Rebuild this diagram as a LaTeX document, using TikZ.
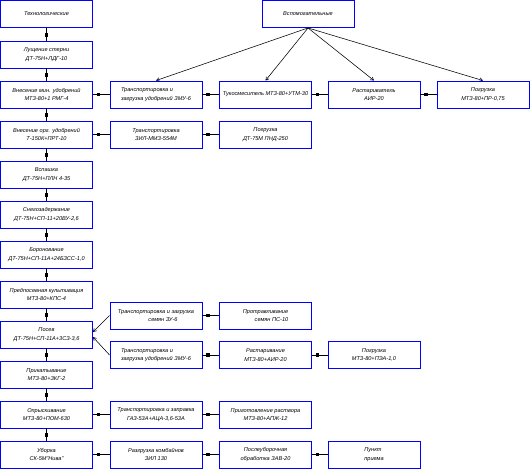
\documentclass[tikz,border=0pt]{standalone}
\usepackage{fontspec}
\setmainfont{Liberation Sans}
\usetikzlibrary{arrows.meta,decorations.markings}
\definecolor{boxblue}{RGB}{0,0,255}
\tikzset{
 bx/.style={draw=boxblue, line width=0.9pt, minimum width=92pt, minimum height=27pt, inner sep=1pt, align=center, font=\fontsize{5.6}{8.5}\selectfont\itshape, fill=white},
 sq/.style={draw=black, line width=0.65pt, postaction={decorate}, decoration={markings, mark=at position -5.5pt with {\fill[black] (-1.6pt,-1.6pt) rectangle (1.6pt,1.6pt);}}},
 ar/.style={draw=black, line width=0.55pt, -{Straight Barb[length=3pt,width=3.5pt]}},
}
\begin{document}
\begin{tikzpicture}[x=1pt,y=-1pt]
\useasboundingbox (0,0) rectangle (532,475);
% left column
\node[bx] (L1) at (46.5,14) {Технологические};
\node[bx] (L2) at (46.5,54.5) {Лущение стерни\\ДТ-75Н+ЛДГ-10};
\node[bx] (L3) at (46.5,94.5) {Внесение мин. удобрений\\МТЗ-80+1 РМГ-4};
\node[bx] (L4) at (46.5,134.5) {Внесение орг. удобрений\\Т-150К+ПРТ-10};
\node[bx] (L5) at (46.5,174.5) {Вспашка\\ДТ-75Н+ПЛН 4-35};
\node[bx] (L6) at (46.5,214.5) {Снегозадержание\\ДТ-75Н+СП-11+20ВУ-2,6};
\node[bx] (L7) at (46.5,254.5) {Боронование\\ДТ-75Н+СП-11А+24БЗСС-1,0};
\node[bx] (L8) at (46.5,294.5) {Предпосевная культивация\\МТЗ-80+КПС-4};
\node[bx] (L9) at (46.5,334.5) {Посев\\ДТ-75Н+СП-11А+3СЗ-3,6};
\node[bx] (L10) at (46.5,374.5) {Прикатывание\\МТЗ-80+ЗКГ-2};
\node[bx] (L11) at (46.5,414.5) {Опрыскивание\\МТЗ-80+ПОМ-630};
\node[bx] (L12) at (46.5,454.5) {Уборка\\СК-5М"Нива"};
% auxiliary
\node[bx] (A) at (308,14) {Вспомогательные};
\node[bx, align=left] (B2) at (156,94.5) {Транспортировка и\\загрузка удобрений ЗМУ-6};
\node[bx] (B3) at (265.5,94.5) {Тукосмеситель МТЗ-80+УТМ-30};
\node[bx] (B4) at (374,94.5) {Растариватель\\АИР-20};
\node[bx] (B5) at (483,94.5) {Погрузка\\МТЗ-80+ПР-0,75};
\node[bx] (C2) at (156,134.5) {Транспортировка\\ЗИЛ-ММЗ-554М};
\node[bx] (C3) at (265.5,134.5) {Погрузка\\ДТ-75М ПНД-250};
\node[bx] (D2) at (156,315.5) {Транспортировка и загрузка\\\hspace*{14pt}семян ЗУ-6};
\node[bx] (D3) at (265.5,315.5) {Протравливание\\\hspace*{12pt}семян ПС-10};
\node[bx, align=left] (E2) at (156,355) {Транспортировка и\\загрузка удобрений ЗМУ-6};
\node[bx] (E3) at (265.5,355) {Растаривание\\МТЗ-80+АИР-20};
\node[bx] (E4) at (374,355) {Погрузка\\МТЗ-80+ПЭА-1,0};
\node[bx] (F2) at (156,414.5) {Транспортировка и заправка\\ГАЗ-53А+АЦА-3,6-53А};
\node[bx] (F3) at (265.5,414.5) {Приготовление раствора\\МТЗ-80+АПЖ-12};
\node[bx] (G2) at (156,454.5) {Разгрузка комбайнов\\ЗИЛ 130};
\node[bx] (G3) at (265.5,454.5) {Послеуборочная\\обработка ЗАВ-20};
\node[bx, align=left] (G4) at (374,454.5) {Пункт\\приема};
% vertical chain
\foreach \a/\b in {L1/L2,L2/L3,L3/L4,L4/L5,L5/L6,L6/L7,L7/L8,L8/L9,L9/L10,L10/L11,L11/L12}
  \path[sq] (\a.south) -- (\b.north);
% horizontal chains
\path[sq] (B5.west) -- (B4.east);
\path[sq] (B4.west) -- (B3.east);
\path[sq] (B3.west) -- (B2.east);
\path[sq] (B2.west) -- (L3.east);
\path[sq] (C3.west) -- (C2.east);
\path[sq] (C2.west) -- (L4.east);
\path[sq] (D3.west) -- (D2.east);
\path[sq] (E4.west) -- (E3.east);
\path[sq] (E3.west) -- (E2.east);
\path[sq] (F3.west) -- (F2.east);
\path[sq] (F2.west) -- (L11.east);
\path[sq] (G4.west) -- (G3.east);
\path[sq] (G3.west) -- (G2.east);
\path[sq] (G2.west) -- (L12.east);
% arrows
\path[ar] (D2.west) -- ([yshift=2.5pt]L9.east);
\path[ar] (E2.west) -- ([yshift=-2.5pt]L9.east);
\path[ar] (A.south) -- (B2.north);
\path[ar] (A.south) -- (B3.north);
\path[ar] (A.south) -- (B4.north);
\path[ar] (A.south) -- (B5.north);
\end{tikzpicture}
\end{document}
